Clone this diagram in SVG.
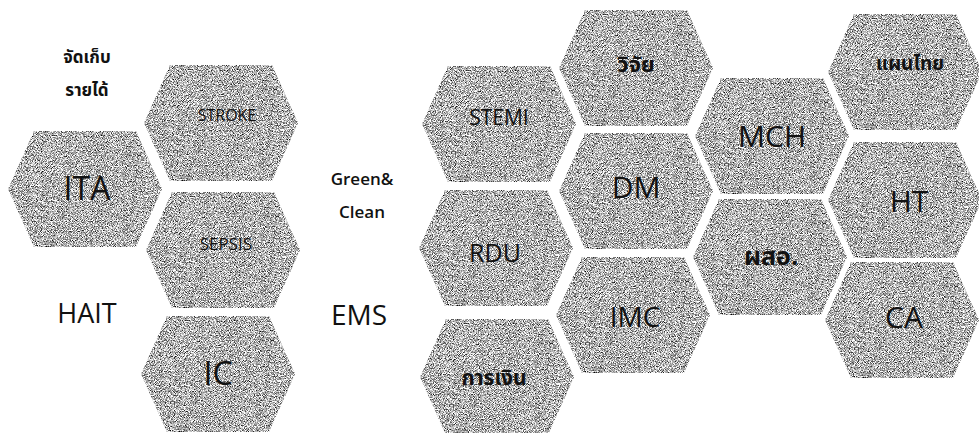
<svg xmlns="http://www.w3.org/2000/svg" xmlns:xlink="http://www.w3.org/1999/xlink" width="979" height="433" viewBox="0 0 979 433">
<style>
  .lbl{font-family:"Open Sans","Noto Sans","Noto Sans Thai","DejaVu Sans",sans-serif;fill:#121212;text-anchor:middle}
  .th{font-weight:bold}
  .free{font-family:"Open Sans","Noto Sans","Noto Sans Thai","DejaVu Sans",sans-serif;fill:#111;text-anchor:middle}
  .hx{fill:#9e9e9e;filter:url(#grain)}
</style>
<defs>
  <filter id="grain" x="0" y="0" width="100%" height="100%" color-interpolation-filters="sRGB">
    <feTurbulence type="fractalNoise" baseFrequency="1.2" numOctaves="1" seed="7" result="n"/>
    <feColorMatrix in="n" type="matrix" values="2.4 0 0 0 -0.5  2.4 0 0 0 -0.5  2.4 0 0 0 -0.5  0 0 0 0 1" result="g"/>
    <feComposite in="g" in2="SourceGraphic" operator="in"/>
  </filter>
  <polygon id="hex" points="-77,0 -51,-58 51,-58 77,0 51,58 -51,58"/>
</defs>
<rect width="979" height="433" fill="#fff"/>

<g id="free-labels">
  <text class="free" x="87" y="63" font-size="17" font-weight="bold">จัดเก็บ</text>
  <text class="free" x="87" y="96" font-size="17" font-weight="bold">รายได้</text>
  <text class="free" x="87" y="323" font-size="27">HAIT</text>
  <text class="free" x="362" y="185" font-size="17" font-weight="600">Green&amp;</text>
  <text class="free" x="362" y="218" font-size="17" font-weight="600">Clean</text>
  <text class="free" x="359" y="325" font-size="28">EMS</text>
</g>

<g id="node-stroke"><use xlink:href="#hex" class="hx" x="221" y="123"/><text class="lbl" x="227" y="121" font-size="16">STROKE</text></g>
<g id="node-ita"><use xlink:href="#hex" class="hx" x="85" y="189"/><text class="lbl" x="87" y="200" font-size="32">ITA</text></g>
<g id="node-sepsis"><use xlink:href="#hex" class="hx" x="223" y="250"/><text class="lbl" x="226" y="250" font-size="17">SEPSIS</text></g>
<g id="node-ic"><use xlink:href="#hex" class="hx" x="218" y="374"/><text class="lbl" x="218" y="385" font-size="32">IC</text></g>

<g id="node-stemi"><use xlink:href="#hex" class="hx" x="499" y="124"/><text class="lbl" x="499" y="125" font-size="21">STEMI</text></g>
<g id="node-rdu"><use xlink:href="#hex" class="hx" x="496" y="248"/><text class="lbl" x="495" y="262" font-size="25">RDU</text></g>
<g id="node-finance"><use xlink:href="#hex" class="hx" x="497" y="377"/><text class="lbl th" x="494" y="385" font-size="21">การเงิน</text></g>

<g id="node-research"><use xlink:href="#hex" class="hx" x="636" y="68"/><text class="lbl th" x="636" y="72" font-size="22">วิจัย</text></g>
<g id="node-dm"><use xlink:href="#hex" class="hx" x="636" y="191"/><text class="lbl" x="636" y="198" font-size="30">DM</text></g>
<g id="node-imc"><use xlink:href="#hex" class="hx" x="633" y="315"/><text class="lbl" x="635" y="327" font-size="28">IMC</text></g>

<g id="node-mch"><use xlink:href="#hex" class="hx" x="772" y="136"/><text class="lbl" x="772" y="147" font-size="30">MCH</text></g>
<g id="node-pso"><use xlink:href="#hex" class="hx" x="770" y="257"/><text class="lbl th" x="771" y="265" font-size="25">ผสอ.</text></g>

<g id="node-thaimed"><use xlink:href="#hex" class="hx" x="905" y="72"/><text class="lbl th" x="910" y="70" font-size="19">แผนไทย</text></g>
<g id="node-ht"><use xlink:href="#hex" class="hx" x="905" y="200"/><text class="lbl" x="909" y="212" font-size="30">HT</text></g>
<g id="node-ca"><use xlink:href="#hex" class="hx" x="902" y="320"/><text class="lbl" x="904" y="328" font-size="30">CA</text></g>
</svg>
